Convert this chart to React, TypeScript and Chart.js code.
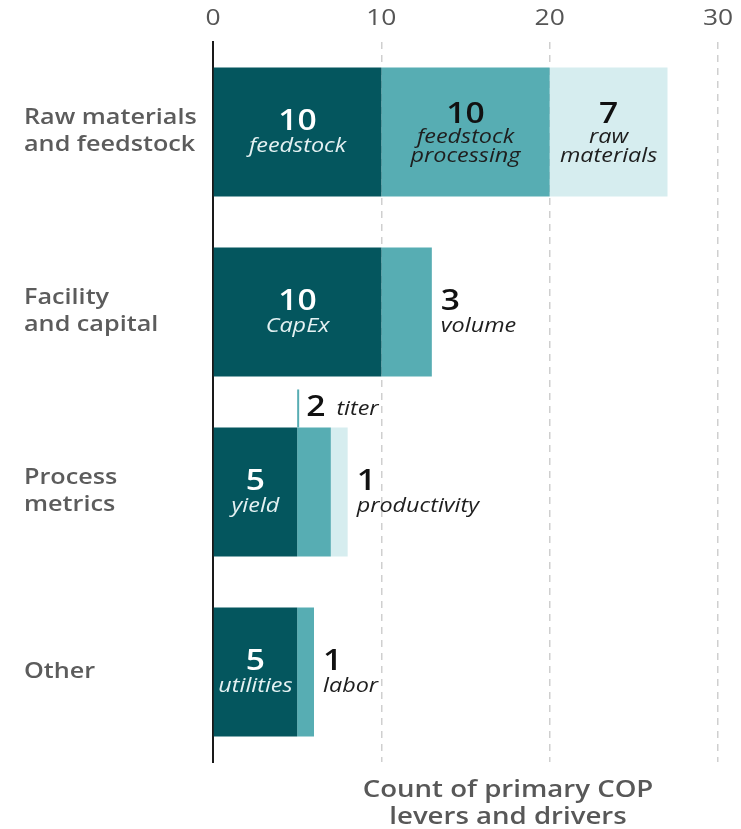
import React, { useEffect, useRef } from "react";
import { Chart, registerables } from "chart.js";

Chart.register(...registerables);

const categories: string[][] = [
  ["Raw materials", "and feedstock"],
  ["Facility", "and capital"],
  ["Process", "metrics"],
  ["Other"],
];
const primaryValues = [10, 10, 5, 5];
const secondaryValues = [10, 3, 2, 1];
const tertiaryValues = [7, 0, 1, 0];
const primaryLabels: string[][] = [["feedstock"], ["CapEx"], ["yield"], ["utilities"]];
const secondaryLabels: string[][] = [["feedstock", "processing"], ["volume"], ["titer"], ["labor"]];
const tertiaryLabels: (string[] | null)[] = [["raw", "materials"], null, ["productivity"], null];
const secondaryPlacement = ["inside", "outside", "above", "outside"];
const tertiaryPlacement = ["inside", null, "outside", null];
const xTicks = [0, 10, 20, 30];
const axisTitle = ["Count of primary COP", "levers and drivers"];

const DARK = "#04565e";
const MID = "#57adb3";
const LIGHT = "#d6edef";
const FONT = "'Open Sans', 'Noto Sans', sans-serif";
const SX = 1.2;

function stretchText(ctx: CanvasRenderingContext2D, text: string, x: number, y: number, align: CanvasTextAlign) {
  ctx.save();
  ctx.translate(x, y);
  ctx.scale(SX, 1);
  ctx.textAlign = align;
  ctx.textBaseline = "middle";
  ctx.fillText(text, 0, 0);
  ctx.restore();
}

const labelPlugin = {
  id: "barLabels",
  afterDraw(chart: any) {
    const ctx = chart.ctx as CanvasRenderingContext2D;
    const xs = chart.scales.x;
    const ys = chart.scales.y;
    ctx.save();
    // x tick labels
    ctx.font = `500 22px ${FONT}`;
    ctx.fillStyle = "#555555";
    xTicks.forEach((v) => stretchText(ctx, String(v), xs.getPixelForValue(v), 19, "center"));
    // category labels
    ctx.font = `600 21px ${FONT}`;
    ctx.fillStyle = "#5c5c5c";
    categories.forEach((lines, i) => {
      const cy = ys.getPixelForValue(i);
      const lh = 27;
      const start = cy - ((lines.length - 1) * lh) / 2;
      lines.forEach((ln, k) => stretchText(ctx, ln, 24, start + k * lh, "left"));
    });

    const sets = [
      { values: primaryValues, labels: primaryLabels, place: primaryValues.map(() => "inside"), color: "#ffffff", sub: "#e4f1f2" },
      { values: secondaryValues, labels: secondaryLabels, place: secondaryPlacement, color: "#111111", sub: "#1e1e1e" },
      { values: tertiaryValues, labels: tertiaryLabels, place: tertiaryPlacement, color: "#111111", sub: "#1e1e1e" },
    ];
    const numFont = `600 28px ${FONT}`;
    const subFont = `italic 400 19.5px ${FONT}`;
    sets.forEach((s, di) => {
      const meta = chart.getDatasetMeta(di);
      meta.data.forEach((el: any, j: number) => {
        const place = s.place[j];
        const labs = s.labels[j];
        if (!place || !labs || !s.values[j]) return;
        const { x, y, base, height } = el.getProps(["x", "y", "base", "height"], true);
        const num = String(s.values[j]);
        if (place === "inside") {
          const cx = (x + base) / 2;
          if (labs.length === 1) {
            ctx.font = numFont; ctx.fillStyle = s.color;
            stretchText(ctx, num, cx, y - 10, "center");
            ctx.font = subFont; ctx.fillStyle = s.sub;
            stretchText(ctx, labs[0], cx, y + 14, "center");
          } else {
            ctx.font = numFont; ctx.fillStyle = s.color;
            stretchText(ctx, num, cx, y - 17, "center");
            ctx.font = subFont; ctx.fillStyle = s.sub;
            stretchText(ctx, labs[0], cx, y + 5, "center");
            stretchText(ctx, labs[1], cx, y + 24, "center");
          }
        } else if (place === "outside") {
          const lx = Math.max(x, base) + 9;
          ctx.font = numFont; ctx.fillStyle = "#111111";
          stretchText(ctx, num, lx, y - 10, "left");
          ctx.font = subFont; ctx.fillStyle = "#1e1e1e";
          stretchText(ctx, labs[0], lx, y + 14, "left");
        } else if (place === "above") {
          const top = y - height / 2;
          const lx = Math.min(x, base) + 1;
          ctx.strokeStyle = MID;
          ctx.lineWidth = 2;
          ctx.beginPath();
          ctx.moveTo(lx, top - 38);
          ctx.lineTo(lx, top);
          ctx.stroke();
          ctx.font = numFont; ctx.fillStyle = "#111111";
          stretchText(ctx, num, lx + 8, top - 19, "left");
          const w = ctx.measureText(num).width * SX;
          ctx.font = subFont; ctx.fillStyle = "#1e1e1e";
          stretchText(ctx, labs[0], lx + 8 + w + 11, top - 18, "left");
        }
      });
    });
    // bottom axis title
    ctx.font = `600 23px ${FONT}`;
    ctx.fillStyle = "#585858";
    stretchText(ctx, axisTitle[0], 508, 790, "center");
    stretchText(ctx, axisTitle[1], 508, 817, "center");
    ctx.restore();
  },
};

export default function App() {
  const ref = useRef<HTMLCanvasElement | null>(null);
  useEffect(() => {
    document.body.style.margin = "0";
    const chart = new Chart(ref.current as HTMLCanvasElement, {
      type: "bar",
      data: {
        labels: categories as any,
        datasets: [
          { data: primaryValues, backgroundColor: DARK },
          { data: secondaryValues, backgroundColor: MID },
          { data: tertiaryValues, backgroundColor: LIGHT },
        ],
      },
      options: {
        indexAxis: "y",
        responsive: true,
        maintainAspectRatio: false,
        animation: false,
        datasets: { bar: { categoryPercentage: 1, barPercentage: 0.717, borderWidth: 0 } },
        layout: { padding: { left: 24, right: 23, top: 0, bottom: 67 } },
        plugins: { legend: { display: false }, tooltip: { enabled: false } },
        scales: {
          x: {
            position: "top",
            stacked: true,
            min: 0,
            max: 30,
            afterBuildTicks: (s: any) => { s.ticks = xTicks.map((v) => ({ value: v })); },
            ticks: { display: false },
            grid: { color: "#cfcfcf", lineWidth: 1.5, drawTicks: false },
            border: { display: false, dash: [7, 6] },
            afterFit: (s: any) => { s.height = 42; },
          },
          y: {
            stacked: true,
            z: 1,
            grid: { display: false, drawTicks: false },
            border: { display: true, color: "#1a1a1a", width: 2 },
            ticks: { display: false },
            afterFit: (s: any) => { s.width = 189; },
          },
        },
      },
      plugins: [labelPlugin],
    } as any);
    return () => chart.destroy();
  }, []);
  return (
    <div style={{ position: "relative", width: 741, height: 829 }}>
      <canvas ref={ref} />
    </div>
  );
}
